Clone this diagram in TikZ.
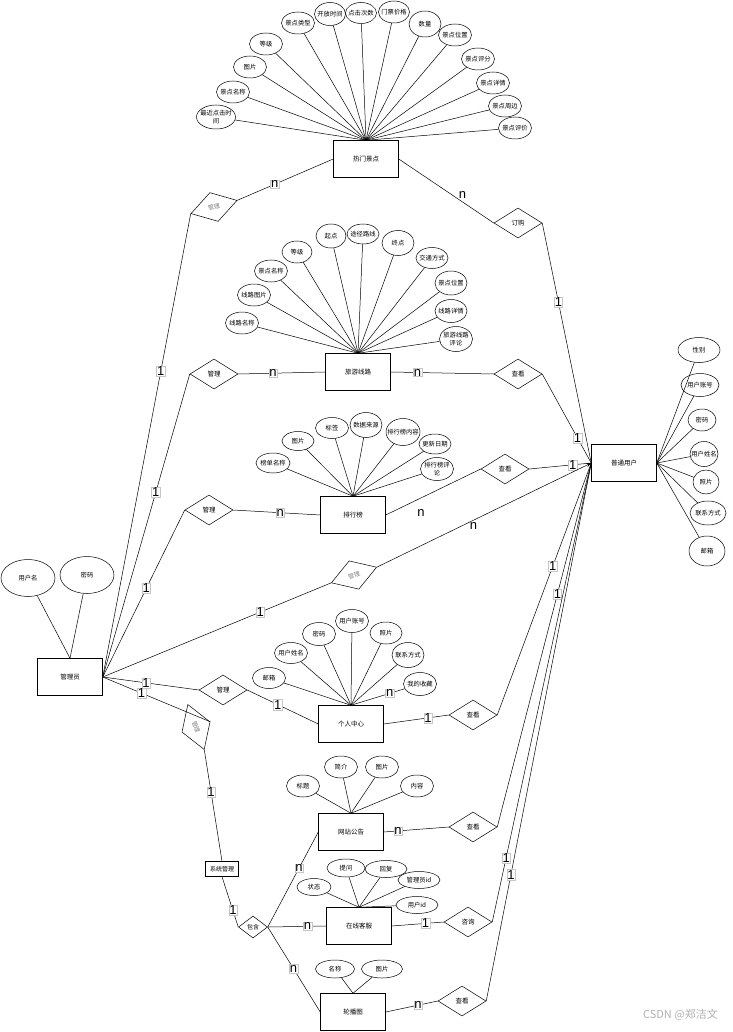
\documentclass[tikz,border=0pt]{standalone}
\usepackage{fontspec}
\newfontfamily\cjk{Noto Sans CJK SC}
\newfontfamily\labfont{Liberation Sans}
\usetikzlibrary{shapes.geometric,arrows.meta}
\begin{document}
\begin{tikzpicture}[x=1pt,y=-1pt,line width=0.5pt,
  ent/.style={draw, rectangle, minimum width=65pt, minimum height=37pt, inner sep=0pt, font=\cjk\fontsize{6.5}{7.5}\selectfont},
  atext/.style={font=\cjk\fontsize{6.3}{7.3}\selectfont, align=center, inner sep=0pt},
  attr/.style={draw, ellipse, minimum width=33pt, minimum height=22pt, inner sep=0pt, label={[atext]center:#1}},
  rel/.style={draw, diamond, minimum width=48pt, minimum height=30pt, inner sep=0pt, font=\cjk\fontsize{6.5}{7.5}\selectfont},
  grel/.style={rel, text=gray, font=\cjk\fontsize{6}{7}\selectfont},
  lab/.style={draw=gray!45, line width=0.3pt, fill=white, inner sep=0.6pt, font=\labfont\fontsize{13}{13}\selectfont},
  flab/.style={inner sep=0.5pt, font=\labfont\fontsize{13}{13}\selectfont}
]
\useasboundingbox (0,0) rectangle (732,1032);
\fill[white] (0,0) rectangle (732,1032);

% ---------- entities ----------
\node[ent] (hot) at (366,159) {热门景点};
\node[ent] (route) at (358,372) {旅游线路};
\node[ent] (rank) at (353,515) {排行榜};
\node[ent] (user) at (624,463) {普通用户};
\node[ent] (adm) at (70,677) {管理员};
\node[ent] (pc) at (351,724) {个人中心};
\node[ent] (notice) at (351,832) {网站公告};
\node[ent] (cs) at (359,926) {在线客服};
\node[ent] (car) at (353,1012) {轮播图};
\node[draw, rectangle, minimum width=33pt, minimum height=15pt, inner sep=0pt, font=\cjk\fontsize{6}{7}\selectfont] (sys) at (222,869) {系统管理};

% ---------- relations ----------
\node[grel, rotate=16] (r1) at (214,207) {管理};
\node[rel] (dg) at (518,223) {订购};
\node[rel] (r2) at (214,374) {管理};
\node[rel] (ck1) at (518,374) {查看};
\node[rel] (r3) at (209,510) {管理};
\node[rel] (ck2) at (505,469) {查看};
\node[grel, rotate=19] (r4) at (354,575) {管理};
\node[rel] (r5) at (223,690) {管理};
\node[rel] (ck3) at (473,715) {查看};
\node[grel, rotate=-70] (r6) at (196,727) {管理};
\node[rel] (ck4) at (473,827) {查看};
\node[rel] (zx) at (468,922) {咨询};
\node[rel] (ck5) at (462,1001) {查看};
\node[rel, minimum width=29pt, minimum height=22pt, font=\cjk\fontsize{6}{7}\selectfont] (bh) at (253,927) {包含};

% ---------- attributes: 热门景点 ----------
\node[attr={最近点击时\\间}, minimum width=39pt, minimum height=24pt] (h1) at (216,117) {};
\node[attr=景点名称] (h2) at (233,92) {};
\node[attr=图片] (h3) at (250,67) {};
\node[attr=等级] (h4) at (266,44) {};
\node[attr=景点类型] (h5) at (298,23) {};
\node[attr=开放时间, minimum width=31pt, minimum height=23pt] (h6) at (330,14) {};
\node[attr=点击次数, minimum width=31pt, minimum height=21pt] (h7) at (361,13) {};
\node[attr=门票价格, minimum width=31pt, minimum height=22pt] (h8) at (394,12) {};
\node[attr=数量, minimum width=32pt, minimum height=26pt] (h9) at (425,24) {};
\node[attr=景点位置] (h10) at (455,35) {};
\node[attr=景点评分] (h11) at (478,59) {};
\node[attr=景点详情] (h12) at (493,83) {};
\node[attr=景点周边] (h13) at (505,106) {};
\node[attr=景点评价] (h14) at (515,128) {};
\foreach \i in {1,...,14} \draw (h\i) -- (hot.north);

% ---------- attributes: 旅游线路 ----------
\node[attr=线路名称] (t1) at (242,323) {};
\node[attr=线路图片] (t2) at (254,295) {};
\node[attr=景点名称] (t3) at (271,271) {};
\node[attr=等级, minimum width=30pt] (t4) at (297,252) {};
\node[attr=起点, minimum width=30pt, minimum height=24pt] (t5) at (331,236) {};
\node[attr=途径路线, minimum width=32pt, minimum height=20pt] (t6) at (363,234) {};
\node[attr=终点, minimum width=32pt, minimum height=25pt] (t7) at (398,243) {};
\node[attr=交通方式, minimum width=32pt, minimum height=21pt] (t8) at (432,258) {};
\node[attr=景点位置, minimum width=32pt, minimum height=24pt] (t9) at (451,283) {};
\node[attr=线路详情, minimum width=32pt, minimum height=23pt] (t10) at (451,311) {};
\node[attr={旅游线路\\评论}, minimum width=33pt, minimum height=25pt] (t11) at (456,339) {};
\foreach \i in {1,...,11} \draw (t\i) -- (route.north);

% ---------- attributes: 排行榜 ----------
\node[attr=榜单名称, minimum width=34pt, minimum height=20pt] (k1) at (273,463) {};
\node[attr=图片, minimum width=32pt, minimum height=19pt] (k2) at (298,441) {};
\node[attr=标签, minimum width=33pt, minimum height=21pt] (k3) at (332,428) {};
\node[attr=数据来源, minimum width=32pt, minimum height=25pt] (k4) at (366,425) {};
\node[attr=排行榜内容, minimum width=34pt, minimum height=27pt] (k5) at (403,432) {};
\node[attr=更新日期, minimum width=32pt, minimum height=20pt] (k6) at (435,444) {};
\node[attr={排行榜评\\论}, minimum width=33pt, minimum height=23pt] (k7) at (437,469) {};
\foreach \i in {1,...,7} \draw (k\i) -- (rank.north);

% ---------- attributes: 普通用户 ----------
\node[attr=性别, minimum width=42pt, minimum height=25pt] (u1) at (699,350) {};
\node[attr=用户账号, minimum width=38pt, minimum height=23pt] (u2) at (700,385) {};
\node[attr=密码, minimum width=28pt, minimum height=22pt] (u3) at (702,420) {};
\node[attr=用户姓名, minimum width=28pt, minimum height=25pt] (u4) at (704,454) {};
\node[attr=照片, minimum width=26pt, minimum height=24pt] (u5) at (706,482) {};
\node[attr=联系方式, minimum width=36pt, minimum height=24pt] (u6) at (708,513) {};
\node[attr=邮箱, minimum width=36pt, minimum height=30pt] (u7) at (707,551) {};
\foreach \i in {1,...,7} \draw (u\i) -- (user.east);

% ---------- attributes: 管理员 ----------
\node[attr=用户名, minimum width=54pt, minimum height=37pt] (a1) at (28,578) {};
\node[attr=密码, minimum width=54pt, minimum height=37pt] (a2) at (87,575) {};
\draw (a1) -- (adm.north);
\draw (a2) -- (adm.north);

% ---------- attributes: 个人中心 ----------
\node[attr=邮箱, minimum height=21pt] (p1) at (269,678) {};
\node[attr=用户姓名, minimum height=21pt] (p2) at (291,653) {};
\node[attr=密码, minimum height=23pt] (p3) at (319,634) {};
\node[attr=用户账号, minimum height=23pt] (p4) at (352,621) {};
\node[attr=照片, minimum width=32pt] (p5) at (386,633) {};
\node[attr=联系方式, minimum width=32pt, minimum height=25pt] (p6) at (408,655) {};
\node[attr=我的收藏, minimum height=23pt] (p7) at (420,684) {};
\foreach \i in {1,...,6} \draw (p\i) -- (pc.north);
\draw (pc.north) -- node[lab, pos=0.72] {n} (p7);

% ---------- attributes: 网站公告 ----------
\node[attr=标题] (n1) at (303,786) {};
\node[attr=简介] (n2) at (341,767) {};
\node[attr=图片] (n3) at (382,767) {};
\node[attr=内容] (n4) at (417,786) {};
\foreach \i in {1,...,4} \draw (n\i) -- (notice.north);

% ---------- attributes: 在线客服 ----------
\node[attr=状态, minimum width=34pt, minimum height=17pt] (c1) at (314,887) {};
\node[attr=提问, minimum width=38pt, minimum height=18pt] (c2) at (346,868) {};
\node[attr=回复, minimum width=42pt, minimum height=17pt] (c3) at (386,869) {};
\node[attr=管理员id, minimum width=42pt, minimum height=17pt] (c4) at (419,880) {};
\node[attr=用户id, minimum width=42pt, minimum height=17pt] (c5) at (417,905) {};
\foreach \i in {1,...,5} \draw (c\i) -- (cs.north);

% ---------- attributes: 轮播图 ----------
\node[attr=名称, minimum width=39pt, minimum height=18pt] (l1) at (335,969) {};
\node[attr=图片, minimum width=41pt, minimum height=18pt] (l2) at (382,969) {};
\draw (l1) -- (car.north);
\draw (l2) -- (car.north);

% ---------- connectors from 管理员 ----------
\draw (adm.east) -- node[lab, pos=0.66] {1} (r1.west);
\draw (adm.east) -- node[lab, pos=0.61] {1} (r2.west);
\draw (adm.east) -- node[lab, pos=0.53] {1} (r3.west);
\draw (adm.east) -- node[lab, pos=0.69] {1} (r4.west);
\draw (adm.east) -- node[lab, pos=0.45] {1} (r5.west);
\draw (adm.east) -- node[lab, pos=0.36] {1} (r6.north);

% ---------- 热门景点 ----------
\draw (r1.east) -- node[lab, pos=0.39] {n} (hot.west);
\draw (hot.east) -- node[flab, pos=0.67, above=3pt] {n} (dg.west);
\draw (dg.east) -- node[lab, pos=0.33] {1} (user.west);

% ---------- 旅游线路 ----------
\draw (r2.east) -- node[lab, pos=0.4] {n} (route.west);
\draw (route.east) -- node[lab, pos=0.26] {n} (ck1.west);
\draw (ck1.east) -- node[lab, pos=0.72] {1} (user.west);

% ---------- 排行榜 ----------
\draw (r3.east) -- node[lab, pos=0.54] {n} (rank.west);
\draw (rank.east) -- node[flab, pos=0.37, below=11pt] {n} (ck2.west);
\draw (ck2.east) -- node[lab, pos=0.7] {1} (user.west);

% ---------- 普通用户 managed ----------
\draw[-{Stealth[length=5pt,width=4pt]}] (r4.east) -- node[flab, pos=0.45, below=1pt] {n} (user.west);

% ---------- 个人中心 ----------
\draw (r5.east) -- node[lab, pos=0.43] {1} (pc.west);
\draw (pc.east) -- node[lab, pos=0.68] {1} (ck3.west);
\draw (ck3.east) -- node[lab, pos=0.59] {1} (user.west);

% ---------- 系统管理 ----------
\draw (r6.east) -- node[lab, pos=0.38] {1} (sys.north);
\draw (sys.south) -- node[lab, pos=0.67] {1} (bh.west);
\draw (bh.east) -- node[lab, pos=0.62] {n} (notice.west);
\draw (bh.east) -- node[lab, pos=0.68] {n} (cs.west);
\draw (bh.east) -- node[lab, pos=0.49] {n} (car.west);

% ---------- 网站公告 / 在线客服 / 轮播图 ----------
\draw (notice.east) -- node[lab, pos=0.22] {n} (ck4.west);
\draw (ck4.east) -- node[lab, pos=0.64] {1} (user.west);
\draw (cs.east) -- node[lab, pos=0.65] {1} (zx.west);
\draw (zx.east) -- node[lab, pos=0.14] {1} (user.west);
\draw (car.east) -- node[lab, pos=0.62] {n} (ck5.west);
\draw (ck5.east) -- node[lab, pos=0.235] {1} (user.west);

% ---------- watermark ----------
\node[font=\cjk\fontsize{11}{12}\selectfont, text=gray!60, anchor=east, inner sep=0pt] (wm) at (718,1015) {CSDN @郑洁文};
\end{tikzpicture}
\end{document}
